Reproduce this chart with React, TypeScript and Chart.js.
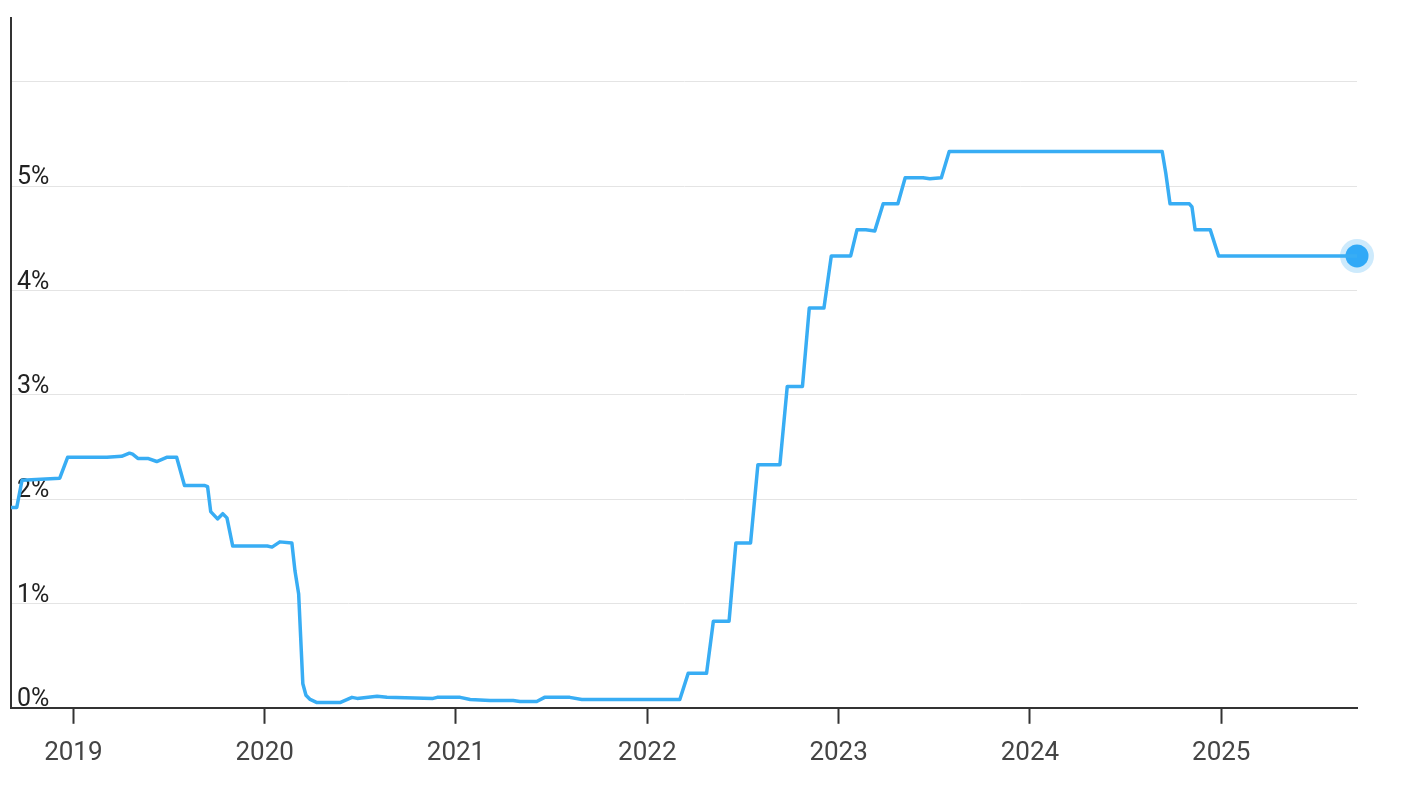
import React, { useEffect, useRef } from "react";
import { Chart, registerables } from "chart.js";

Chart.register(...registerables);

// Effective rate
const dates: string[] = [
  "2018-09-04", "2018-09-15", "2018-09-25", "2018-12-06", "2018-12-21",
  "2019-03-06", "2019-04-03", "2019-04-18", "2019-04-24", "2019-05-04",
  "2019-05-23", "2019-06-09", "2019-06-28", "2019-07-17", "2019-08-01",
  "2019-09-09", "2019-09-14", "2019-09-20", "2019-10-03", "2019-10-13",
  "2019-10-21", "2019-11-01", "2020-01-06", "2020-01-15", "2020-01-30",
  "2020-02-22", "2020-02-28", "2020-03-06", "2020-03-14", "2020-03-20",
  "2020-03-28", "2020-04-10", "2020-04-21", "2020-05-24", "2020-06-16",
  "2020-06-26", "2020-08-03", "2020-08-22", "2020-11-18", "2020-11-26",
  "2021-01-09", "2021-01-28", "2021-03-07", "2021-04-20", "2021-05-03",
  "2021-06-04", "2021-06-19", "2021-07-18", "2021-08-06", "2021-08-29",
  "2021-09-27", "2022-03-04", "2022-03-20", "2022-04-24", "2022-05-07",
  "2022-06-06", "2022-06-19", "2022-07-17", "2022-07-31", "2022-09-11",
  "2022-09-25", "2022-10-24", "2022-11-06", "2022-12-04", "2022-12-18",
  "2023-01-24", "2023-02-05", "2023-02-22", "2023-03-11", "2023-03-27",
  "2023-04-24", "2023-05-08", "2023-06-11", "2023-06-24", "2023-07-16",
  "2023-07-31", "2024-09-10", "2024-09-17", "2024-09-25", "2024-11-01",
  "2024-11-06", "2024-11-12", "2024-12-11", "2024-12-27", "2025-09-17",
];

const rates: number[] = [
  1.92, 1.92, 2.18, 2.2, 2.4,
  2.4, 2.41, 2.44, 2.43, 2.39,
  2.39, 2.36, 2.4, 2.4, 2.13,
  2.13, 2.12, 1.88, 1.81, 1.86,
  1.82, 1.55, 1.55, 1.54, 1.59,
  1.58, 1.31, 1.09, 0.23, 0.12,
  0.08, 0.05, 0.05, 0.05, 0.1,
  0.09, 0.11, 0.1, 0.09, 0.1,
  0.1, 0.08, 0.07, 0.07, 0.06,
  0.06, 0.1, 0.1, 0.1, 0.08,
  0.08, 0.08, 0.33, 0.33, 0.83,
  0.83, 1.58, 1.58, 2.33, 2.33,
  3.08, 3.08, 3.83, 3.83, 4.33,
  4.33, 4.58, 4.58, 4.57, 4.83,
  4.83, 5.08, 5.08, 5.07, 5.08,
  5.33, 5.33, 5.12, 4.83, 4.83,
  4.8, 4.58, 4.58, 4.33, 4.33,
];

const yTickValues: number[] = [0, 1, 2, 3, 4, 5];
const xStart = "2018-09-04";
const xEnd = "2025-09-17";
const yMax = 6.61;

function toYear(d: string): number {
  const [y, m, day] = d.split("-").map(Number);
  const t = Date.UTC(y, m - 1, day);
  const s = Date.UTC(y, 0, 1);
  const e = Date.UTC(y + 1, 0, 1);
  return y + (t - s) / (e - s);
}

export default function App() {
  const ref = useRef<HTMLCanvasElement | null>(null);

  useEffect(() => {
    if (!ref.current) return;
    const points = dates.map((d, i) => ({ x: toYear(d), y: rates[i] }));
    const last = points[points.length - 1];
    const lineColor = "#38adf4";
    const chart = new Chart(ref.current, {
      type: "line",
      data: {
        datasets: [
          {
            data: points,
            borderColor: lineColor,
            borderWidth: 3.5,
            pointRadius: 0,
            tension: 0,
            borderJoinStyle: "round",
            borderCapStyle: "round",
            fill: false,
          },
          {
            data: [last],
            showLine: false,
            pointRadius: 17,
            pointBackgroundColor: "rgba(56,170,245,0.25)",
            pointBorderWidth: 0,
            clip: false as any,
          },
          {
            data: [last],
            showLine: false,
            pointRadius: 11.5,
            pointBackgroundColor: "#2ea9f8",
            pointBorderWidth: 0,
            clip: false as any,
          },
        ],
      },
      options: {
        animation: false,
        responsive: false,
        events: [],
        layout: { autoPadding: false, padding: { left: 11, right: 57, top: 18, bottom: 5 } },
        plugins: { legend: { display: false }, tooltip: { enabled: false } },
        scales: {
          x: {
            type: "linear",
            min: toYear(xStart),
            max: toYear(xEnd),
            afterFit: (scale: any) => {
              scale.paddingLeft = 0;
              scale.paddingRight = 0;
            },
            grid: {
              drawOnChartArea: false,
              drawTicks: true,
              tickLength: 16,
              tickColor: "#333",
              tickWidth: 2,
            },
            border: { color: "#333", width: 2 },
            ticks: {
              stepSize: 1,
              includeBounds: false,
              maxRotation: 0,
              autoSkip: false,
              padding: 14,
              color: "#444",
              font: { family: "Roboto", size: 26 },
              callback: (v: any) => (Number.isInteger(v) ? String(v) : ""),
            },
          },
          y: {
            type: "linear",
            min: 0,
            max: yMax,
            afterFit: (scale: any) => {
              scale.width = 0;
              scale.paddingTop = 0;
              scale.paddingBottom = 0;
            },
            grid: { color: "#e4e4e4", lineWidth: 1, drawTicks: false },
            border: { color: "#333", width: 2 },
            ticks: {
              stepSize: 1,
              includeBounds: false,
              mirror: true,
              padding: 6,
              labelOffset: -8,
              color: "#222",
              font: { family: "Roboto", size: 25 },
              callback: (v: any) => (yTickValues.includes(v) ? v + "%" : ""),
            },
          },
        },
      },
    });
    return () => chart.destroy();
  }, []);

  return (
    <div style={{ position: "fixed", left: 0, top: 0, width: 1414, height: 788, background: "#fff" }}>
      <canvas ref={ref} width={1414} height={788} style={{ display: "block" }} />
    </div>
  );
}
